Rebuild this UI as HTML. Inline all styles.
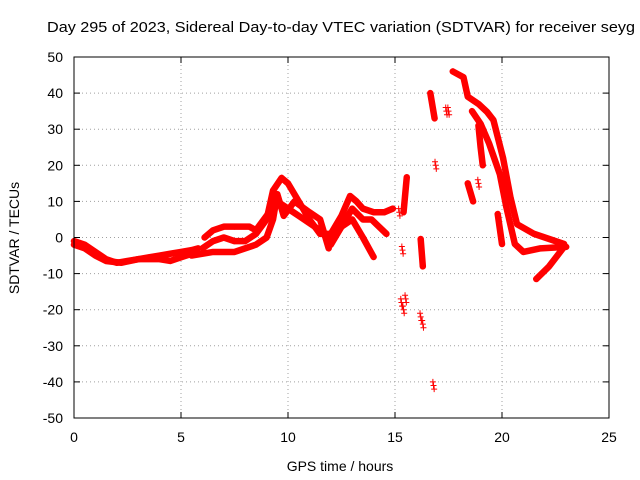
<!DOCTYPE html>
<html><head><meta charset="utf-8"><style>
body{margin:0;background:#fff;}
svg{display:block;font-family:"Liberation Sans",sans-serif;}
</style></head><body>
<svg id="chart" width="640" height="480" viewBox="0 0 640 480">
<rect width="640" height="480" fill="#fff"/>
<text x="47" y="32" font-size="15" textLength="588" lengthAdjust="spacingAndGlyphs">Day 295 of 2023, Sidereal Day-to-day VTEC variation (SDTVAR) for receiver seyg</text>
<g id="grid"></g><g id="axes"></g><g id="marks"></g>
<rect x="74" y="57" width="535" height="361" fill="none" stroke="#000" stroke-width="1"/>
<text transform="translate(19,238) rotate(-90)" text-anchor="middle" font-size="14">SDTVAR / TECUs</text>
<text x="340" y="471" text-anchor="middle" font-size="14">GPS time / hours</text>
</svg>
<script>
const xTicks=[0,5,10,15,20,25];
const yTicks=[50,40,30,20,10,0,-10,-20,-30,-40,-50];
const trackA_t=[0,0.5,1,1.5,2,2.5,3,3.5,4,4.5,5,5.5,5.8];
const trackA_v=[-1,-2,-4,-6,-7,-6.5,-6,-5.5,-5,-4.5,-4,-3.5,-3];
const trackB_t=[0,0.5,1,1.5,2.2,3,4,4.5,5,5.5];
const trackB_v=[-2,-3,-5,-6.5,-7,-6,-6,-6.5,-5.5,-4.5];
const trackC_t=[6,6.5,7,7.5,8,8.5,9,9.3,9.7,10,10.5,11,11.5,12,12.5,12.9,13.2,13.5,14,14.5,14.9];
const trackC_v=[-3,-1,0,-1,-1,1,5,13,16.5,15,10,5,1,1,6,11.5,10,8,7,7,8];
const trackD_t=[6.1,6.5,7,7.5,8.2,8.5,9,9.5,10,10.5,11,11.5,12,12.5,13,13.5,13.9,14.6];
const trackD_v=[0,2,3,3,3,2,6,10,8,6,4,2,0,3,8,5,5,1];
const trackE_t=[5.5,6.5,7.5,8.5,9,9.3,9.5,9.8,10.3,11,11.5,11.9];
const trackE_v=[-5,-4,-4,-2,0,5,12,6,10,7,5,-3];
const trackF_t=[12,12.5,13,13.5,14];
const trackF_v=[-2,3,5,0,-5.4];
const trackG_t=[17.7,18.2,18.4,18.9,19.3,19.6,20.05,20.4,20.7,21.5,22.9];
const trackG_v=[46,44.4,39,37,34.8,32.5,22,11,3.7,1,-1.8];
const trackH_t=[18.6,19,19.4,19.9,20.2,20.6,21,21.8,23];
const trackH_v=[35,31.5,26,17.5,8.5,-1.8,-4,-3,-2.6];
const trackI_t=[18.9,19.0,19.1];
const trackI_v=[31,25,20];
const trackJ_t=[21.6,22.2,22.9];
const trackJ_v=[-11.5,-8,-2.6];
const trackK_t=[18.4,18.65];
const trackK_v=[15,10];
const trackL_t=[19.8,20.0];
const trackL_v=[6.5,-1.8];
const trackM_t=[15.4,15.55];
const trackM_v=[7,16.7];
const trackN_t=[16.2,16.3];
const trackN_v=[-0.4,-8];
const trackO_t=[16.65,16.85];
const trackO_v=[40,33];
const scatter_t=[15.2,15.35,15.3,15.4,15.5,16.2,16.3,17.4,17.5,16.9,16.8,18.9];
const scatter_v=[7,-3.5,-18,-20,-17,-22,-24,35,35,20,-41,15];
const tracks=[[trackA_t,trackA_v],[trackB_t,trackB_v],[trackC_t,trackC_v],[trackD_t,trackD_v],[trackE_t,trackE_v],[trackF_t,trackF_v],[trackG_t,trackG_v],[trackH_t,trackH_v],[trackI_t,trackI_v],[trackJ_t,trackJ_v],[trackK_t,trackK_v],[trackL_t,trackL_v],[trackM_t,trackM_v],[trackN_t,trackN_v],[trackO_t,trackO_v]];
const X0=74,X1=609,Y0=418,Y1=57;
const sx=t=>X0+(t-0)/(25-0)*(X1-X0);
const sy=v=>Y0-(v+50)/100*(Y0-Y1);
const NS="http://www.w3.org/2000/svg";
function mk(tag,attrs,parent){const e=document.createElementNS(NS,tag);for(const k in attrs)e.setAttribute(k,attrs[k]);parent.appendChild(e);return e;}
const grid=document.getElementById('grid'),axes=document.getElementById('axes'),marks=document.getElementById('marks');
xTicks.forEach(t=>{
 const x=sx(t);
 if(t>0&&t<25){const g=mk('line',{x1:x,y1:Y1,x2:x,y2:Y0,stroke:'#a0a0a0','stroke-dasharray':'1,3'},grid);
 
 }
 mk('line',{x1:x,y1:Y0,x2:x,y2:Y0-6,stroke:'#000'},axes);
 mk('line',{x1:x,y1:Y1,x2:x,y2:Y1+6,stroke:'#000'},axes);
 const l=mk('text',{x:x,y:442,'text-anchor':'middle','font-size':'14'},axes);l.textContent=t;
 
 
});
yTicks.forEach(v=>{
 const y=sy(v);
 if(v>-50&&v<50){const g=mk('line',{x1:X0,y1:y,x2:X1,y2:y,stroke:'#a0a0a0','stroke-dasharray':'1,3'},grid);
 
 }
 mk('line',{x1:X0,y1:y,x2:X0+6,y2:y,stroke:'#000'},axes);
 mk('line',{x1:X1,y1:y,x2:X1-6,y2:y,stroke:'#000'},axes);
 const l=mk('text',{x:63,y:y+5,'text-anchor':'end','font-size':'14'},axes);l.textContent=v;
 
 
});
function plus(t,v){
 const x=sx(t),y=sy(v);
 const p=mk('path',{d:`M${x-3},${y}H${x+3}M${x},${y-3}V${y+3}`,stroke:'#f00','stroke-width':'1'},marks);
 
 
}
tracks.forEach(([ts,vs])=>{
 const d=ts.map((t,i)=>(i?'L':'M')+sx(ts[i])+','+sy(vs[i])).join('');
 const p=mk('path',{d:d,stroke:'#f00','stroke-width':'6.5',fill:'none','stroke-linejoin':'round','stroke-linecap':'round'},marks);
 
 
 ts.forEach((t,i)=>plus(t,vs[i]));
});
scatter_t.forEach((t,i)=>{plus(t,scatter_v[i]);plus(t+0.03,scatter_v[i]-1);plus(t-0.03,scatter_v[i]+1);});
</script>
</body></html>
